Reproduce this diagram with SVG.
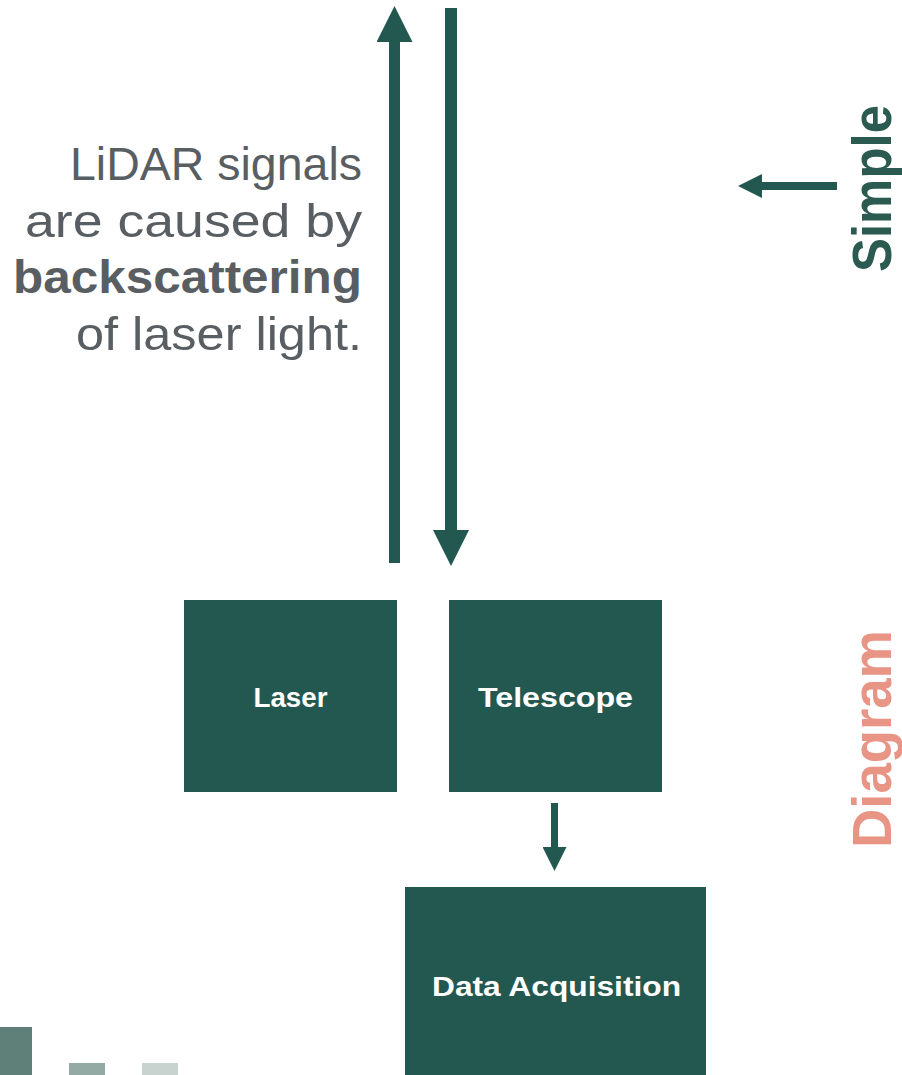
<svg xmlns="http://www.w3.org/2000/svg" width="902" height="1075" viewBox="0 0 902 1075">
<style>
.box{fill:#22584f}
.lbl{font-family:"Liberation Sans",Arial,sans-serif;font-weight:bold;font-size:28px;fill:#ffffff;text-anchor:middle}
.body{font-family:"Liberation Sans",Arial,sans-serif;font-size:46px;fill:#595e63;text-anchor:end}
.conn{stroke:#22584f;fill:none;stroke-linecap:butt}
.side{font-family:"Liberation Sans",Arial,sans-serif;font-weight:bold;font-size:56px}
</style>
<defs>
<marker id="headBig" markerUnits="userSpaceOnUse" markerWidth="36" markerHeight="36" refX="0" refY="18" orient="auto">
<path d="M0,0 L36,18 L0,36 z" fill="#22584f"/>
</marker>
<marker id="headSmall" markerUnits="userSpaceOnUse" markerWidth="24" markerHeight="24" refX="0" refY="12" orient="auto">
<path d="M0,0 L24,12 L0,24 z" fill="#22584f"/>
</marker>
</defs>
<rect width="902" height="1075" fill="#ffffff"/>

<g id="caption">
<text class="body" x="362" y="180" textLength="292" lengthAdjust="spacingAndGlyphs">LiDAR signals</text>
<text class="body" x="362" y="237" textLength="337" lengthAdjust="spacingAndGlyphs">are caused by</text>
<text class="body" x="362" y="293" font-weight="bold" textLength="349" lengthAdjust="spacingAndGlyphs">backscattering</text>
<text class="body" x="362" y="350" textLength="286" lengthAdjust="spacingAndGlyphs">of laser light.</text>
</g>

<g id="connectors">
<line class="conn" x1="394.5" y1="563" x2="394.5" y2="42" stroke-width="11" marker-end="url(#headBig)"/>
<line class="conn" x1="451" y1="8" x2="451" y2="530" stroke-width="12" marker-end="url(#headBig)"/>
<line class="conn" x1="837" y1="186" x2="762" y2="186" stroke-width="8" marker-end="url(#headSmall)"/>
<line class="conn" x1="554.5" y1="803" x2="554.5" y2="847" stroke-width="7" marker-end="url(#headSmall)"/>
</g>

<g id="laser">
<rect class="box" x="184" y="600" width="213" height="192"/>
<text class="lbl" x="290.5" y="707" textLength="74" lengthAdjust="spacingAndGlyphs">Laser</text>
</g>
<g id="telescope">
<rect class="box" x="449" y="600" width="213" height="192"/>
<text class="lbl" x="555.5" y="707" textLength="155" lengthAdjust="spacingAndGlyphs">Telescope</text>
</g>
<g id="data-acquisition">
<rect class="box" x="405" y="887" width="301" height="188"/>
<text class="lbl" x="556.5" y="996" textLength="249" lengthAdjust="spacingAndGlyphs">Data Acquisition</text>
</g>

<g id="side-titles">
<text class="side" fill="#2b5a50" transform="translate(891,272) rotate(-90)" textLength="167" lengthAdjust="spacingAndGlyphs">Simple</text>
<text class="side" fill="#e89585" transform="translate(891,848) rotate(-90)" textLength="218" lengthAdjust="spacingAndGlyphs">Diagram</text>
</g>

<g id="decor">
<rect x="0" y="1027" width="32" height="48" fill="#5f8078"/>
<rect x="69" y="1063" width="36" height="12" fill="#92a9a4"/>
<rect x="142" y="1063" width="36" height="12" fill="#c8d3d0"/>
</g>
</svg>
